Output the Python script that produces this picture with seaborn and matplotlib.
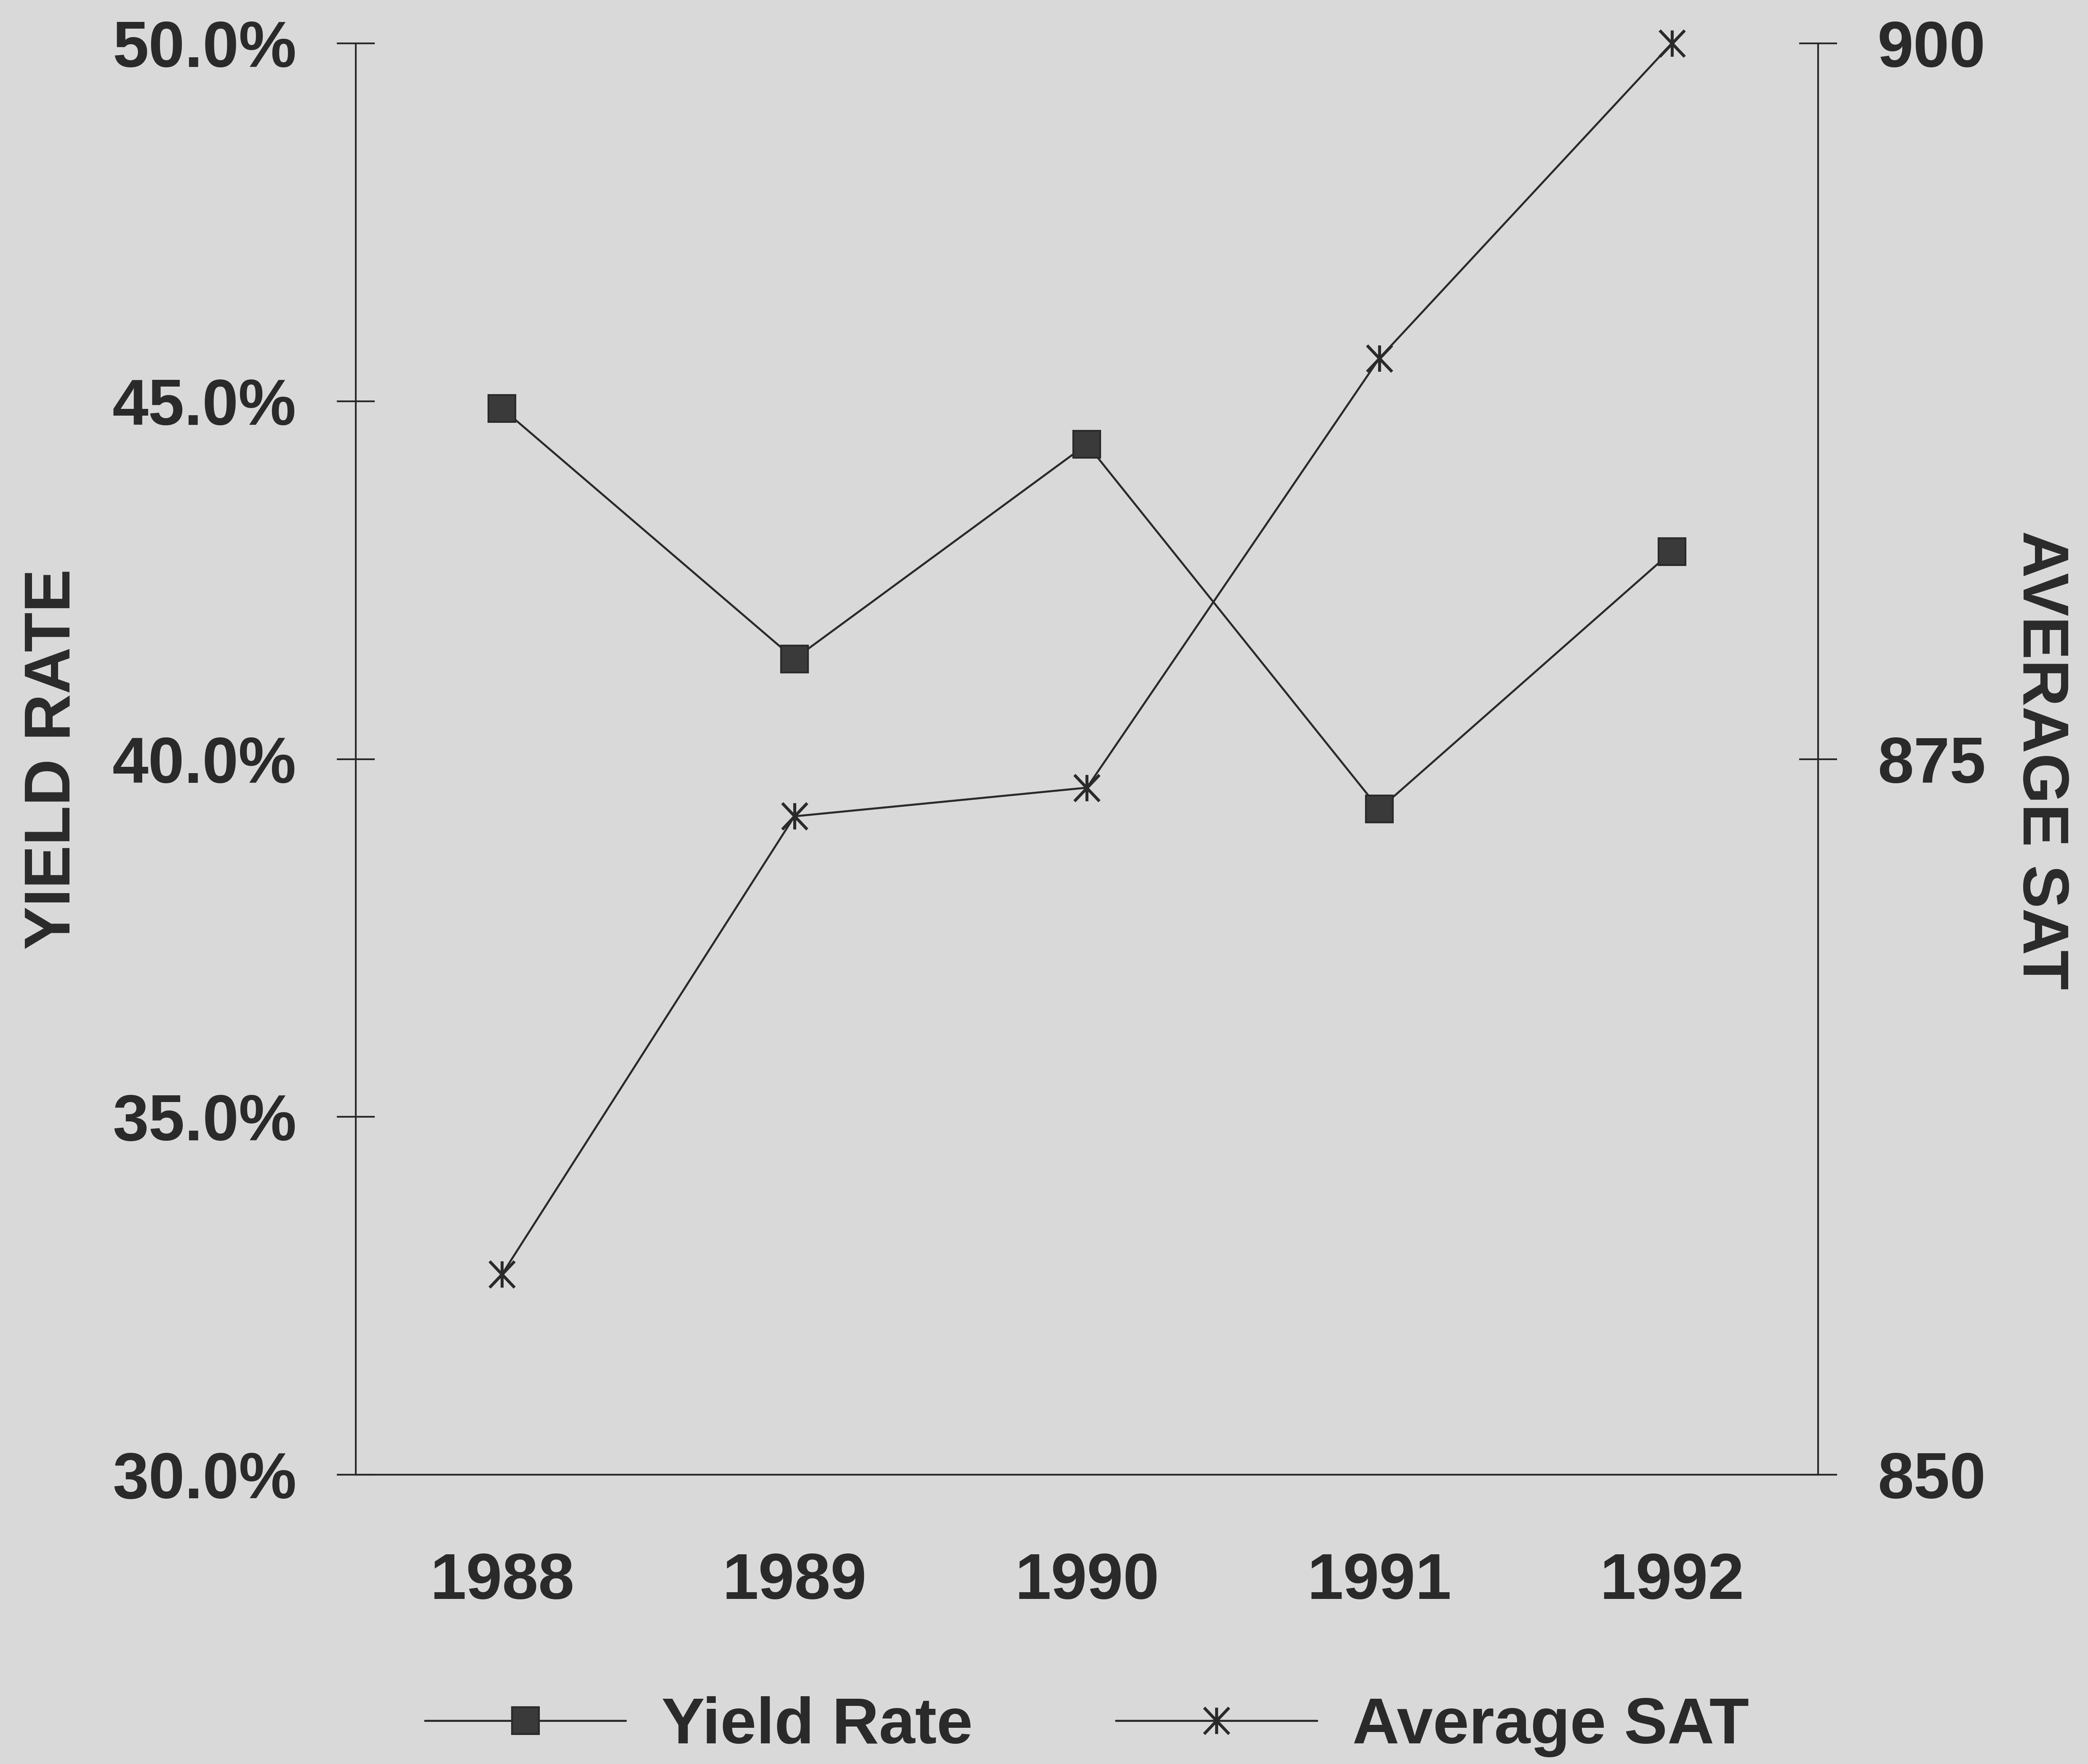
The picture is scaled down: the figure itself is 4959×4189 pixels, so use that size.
import numpy as np
import pandas as pd
import matplotlib
matplotlib.use("Agg")
import matplotlib.pyplot as plt
from matplotlib.path import Path
from matplotlib.ticker import FixedLocator, FuncFormatter
import seaborn as sns

# ---- data ----
years = [1988, 1989, 1990, 1991, 1992]
yield_rate = [44.9, 41.4, 44.4, 39.3, 42.9]
average_sat = [857, 873, 874, 889, 900]
left_ticks = [30, 35, 40, 45, 50]
right_ticks = [850, 875, 900]
series_names = ["Yield Rate", "Average SAT"]

sns.set_theme(style="white")
plt.rcParams["font.family"] = ["Liberation Sans", "DejaVu Sans"]
plt.rcParams["font.weight"] = "bold"

BG = "#d9d9d9"
INK = "#2a2a2a"
FS = 37

df = pd.DataFrame({"year": years, "yield": yield_rate, "sat": average_sat})

fig = plt.figure(figsize=(4959 / 300, 4189 / 300), dpi=300, facecolor=BG)
ax = fig.add_axes([0.1704, 0.1640, 0.8707 - 0.1704, 0.9754 - 0.1640])
ax.set_facecolor("none")
ax2 = ax.twinx()
ax2.set_facecolor("none")

star = Path(
    [(0, -1), (0, 1), (-0.95, -1), (0.95, 1), (-0.95, 1), (0.95, -1)],
    [Path.MOVETO, Path.LINETO, Path.MOVETO, Path.LINETO, Path.MOVETO, Path.LINETO],
)

sns.lineplot(data=df, x="year", y="yield", ax=ax, color=INK, linewidth=1.15,
             marker="s", markersize=15.5, markerfacecolor="#3a3a3a",
             markeredgecolor=INK, markeredgewidth=1.0, legend=False, clip_on=False)
sns.lineplot(data=df, x="year", y="sat", ax=ax2, color=INK, linewidth=1.15,
             marker=star, markersize=15, markerfacecolor="none",
             markeredgecolor=INK, markeredgewidth=1.7, legend=False, clip_on=False)

ax.set_xlim(years[0] - 0.5, years[-1] + 0.5)
ax.set_ylim(left_ticks[0], left_ticks[-1])
ax2.set_ylim(right_ticks[0], right_ticks[-1])

# x: labels at years (no tick marks), tick marks between categories
ax.xaxis.set_major_locator(FixedLocator(years))
ax.xaxis.set_minor_locator(FixedLocator([y - 0.5 for y in years] + [years[-1] + 0.5]))
ax.xaxis.set_major_formatter(FuncFormatter(lambda v, p: f"{int(round(v))}"))
ax.tick_params(axis="x", which="major", length=0, pad=44, labelsize=FS, labelcolor=INK)
ax.tick_params(axis="x", which="minor", direction="inout", length=21.6, width=1.0, color=INK)

ax.set_yticks(left_ticks)
ax.yaxis.set_major_formatter(FuncFormatter(lambda v, p: f"{v:.1f}%"))
ax.tick_params(axis="y", which="major", direction="inout", length=21.6, width=1.0,
               color=INK, pad=23, labelsize=FS, labelcolor=INK)
ax2.set_yticks(right_ticks)
ax2.tick_params(axis="y", which="major", direction="inout", length=21.6, width=1.0,
                color=INK, pad=23, labelsize=FS, labelcolor=INK)

for a in (ax, ax2):
    a.set_xlabel("")
    a.set_ylabel("")
    a.grid(False)
    for t in a.get_xticklabels() + a.get_yticklabels():
        t.set_fontweight("bold")
    a.spines["top"].set_visible(False)
    for s in ("left", "right", "bottom"):
        a.spines[s].set_color(INK)
        a.spines[s].set_linewidth(1.0)
ax.spines["right"].set_visible(False)
ax2.spines["left"].set_visible(False)
ax2.spines["bottom"].set_visible(False)

fig.text(126 / 4959, 1 - 1803 / 4189, "YIELD RATE", rotation=90, ha="center", va="center",
         fontsize=FS, fontweight="bold", color=INK)
fig.text(4845 / 4959, 1 - 1805 / 4189, "AVERAGE SAT", rotation=270, ha="center", va="center",
         fontsize=FS, fontweight="bold", color=INK)

handles = [ax.get_lines()[0], ax2.get_lines()[0]]
leg = ax.legend(handles, series_names, ncol=2, loc="center", bbox_to_anchor=(0.5, -0.176),
                frameon=False, fontsize=FS, handlelength=3.1, handletextpad=0.55,
                columnspacing=2.2, borderpad=0)
for t in leg.get_texts():
    t.set_color(INK)
    t.set_fontweight("bold")

fig.savefig("out.png", dpi=300, facecolor=BG)
